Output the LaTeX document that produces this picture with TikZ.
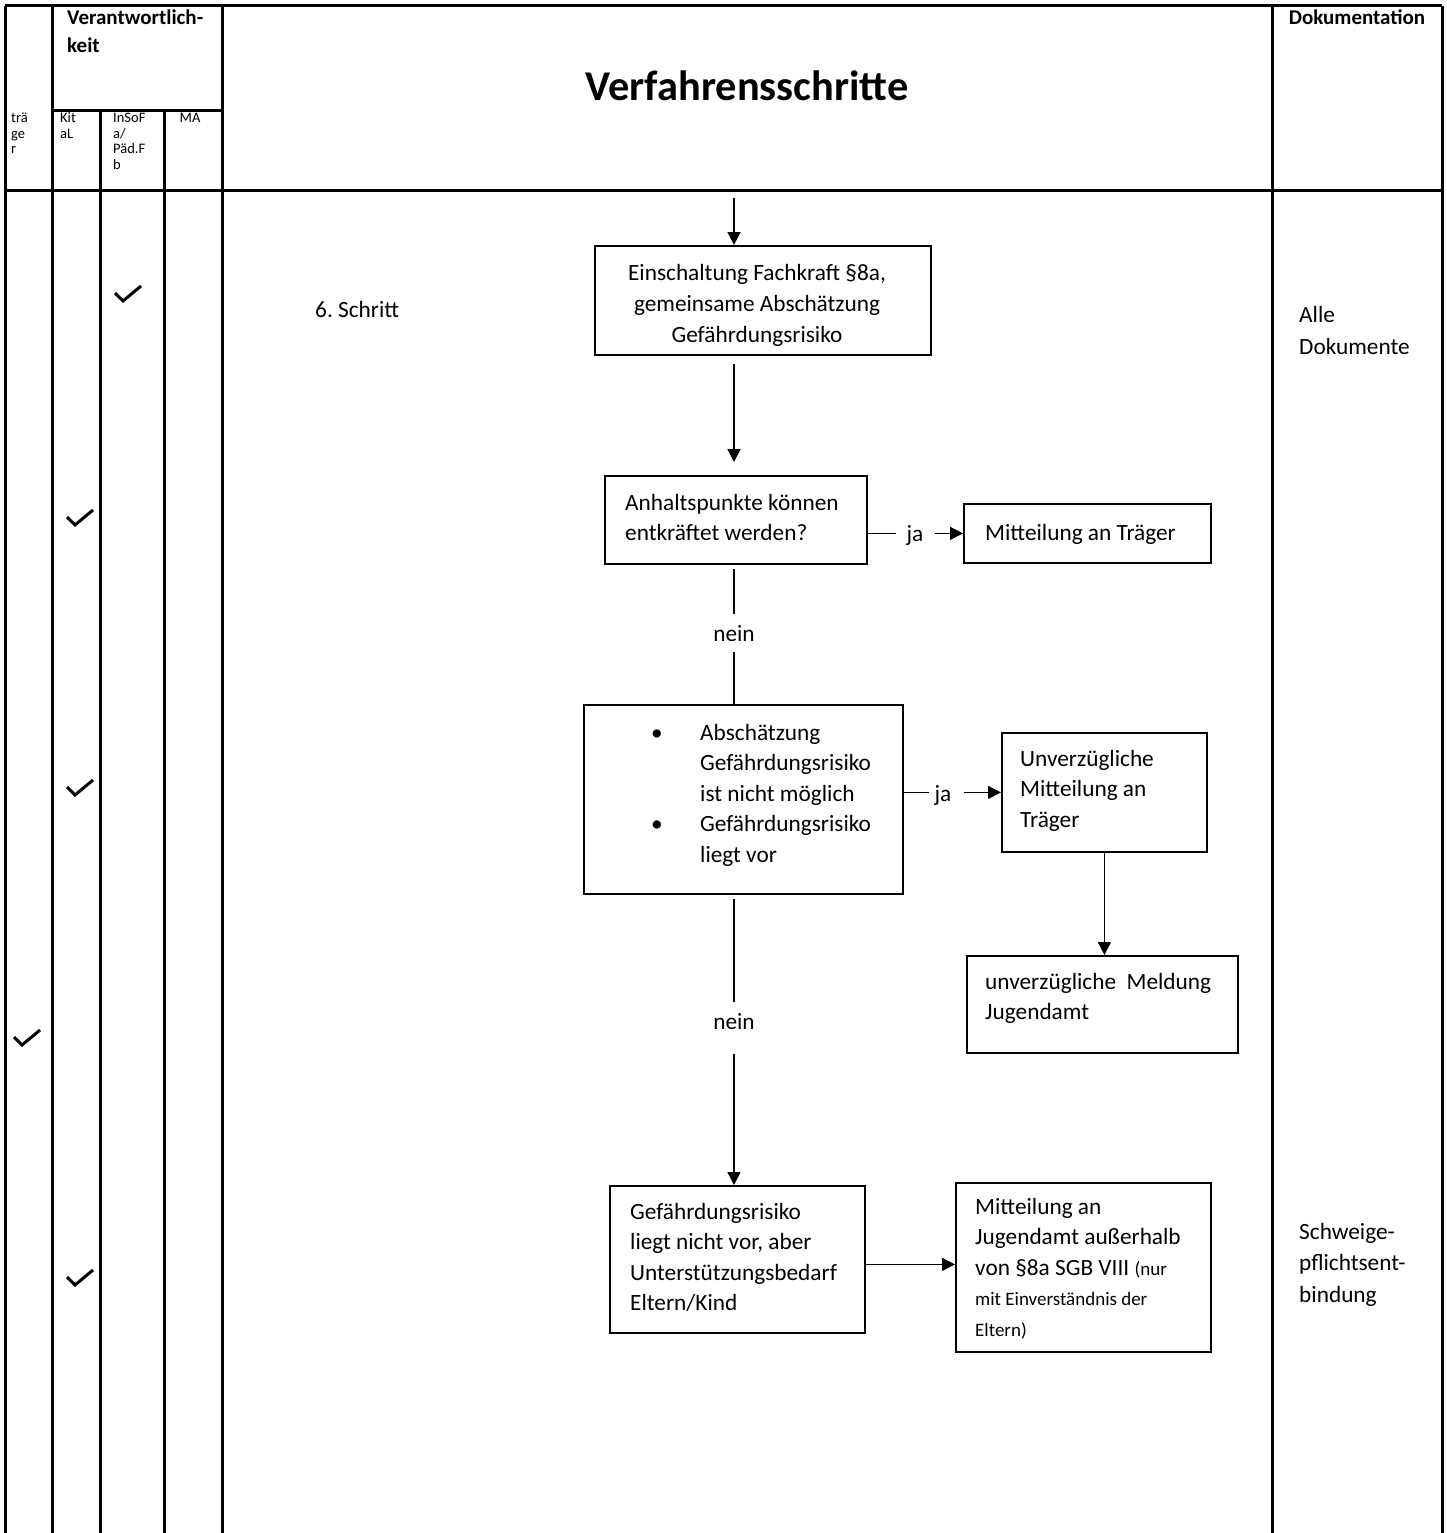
\documentclass[tikz,border=0pt]{standalone}
\usepackage{fontspec}
\setmainfont{Carlito}
\usetikzlibrary{arrows.meta,calc}
\newcommand{\bodyfont}{\fontsize{23.3}{30.5}\selectfont}
\newcommand{\smallerfont}{\fontsize{19}{30.5}\selectfont}
\frenchspacing
\begin{document}
\begin{tikzpicture}[x=1pt,y=-1pt,
  grid/.style={line width=3pt},
  box/.style={draw, line width=1.8pt, inner sep=0pt, anchor=north west},
  txt/.style={inner sep=0pt, font=\bodyfont, align=flush left, anchor=base west, text width=300pt},
  ctxt/.style={inner sep=0pt, font=\bodyfont, align=flush center, anchor=base, text width=330pt},
  conn/.style={line width=1.4pt},
  arr/.style={conn, -{Triangle[length=13pt,width=13pt]}},
  lbl/.style={inner sep=0pt, font=\bodyfont, anchor=base},
  chk/.style={line width=3pt},
  hd/.style={inner sep=0pt, font=\fontsize{21}{28}\selectfont\bfseries, align=flush left, anchor=base west, text width=160pt},
  sm/.style={inner sep=0pt, font=\fontsize{14.5}{15.5}\selectfont, align=flush left, anchor=base west, text width=50pt},
]
\useasboundingbox (0,0) rectangle (1446,1533);
\fill[white] (0,0) rectangle (1446,1533);

% ---------- table grid ----------
\draw[grid] (5,6) -- (1442,6);
\draw[grid] (5,191) -- (1442,191);
\draw[grid] (52,111) -- (222,111);
\draw[grid] (5,6) -- (5,1533);
\draw[grid] (52,6) -- (52,1533);
\draw[grid] (100,111) -- (100,1533);
\draw[grid] (164,111) -- (164,1533);
\draw[grid] (222,6) -- (222,1533);
\draw[grid] (1272,6) -- (1272,1533);
\draw[grid] (1442,6) -- (1442,1533);

% ---------- header texts ----------
\node[hd] (hvera) at (67,25) {Verantwortlich-\\keit};
\node[hd, align=flush center, anchor=base] (hdoku) at (1357,25) {Dokumentation};
\node[inner sep=0pt, font=\fontsize{42.4}{50}\selectfont\bfseries, anchor=base] (title) at (747,101) {Verfahrensschritte};
\node[sm] (htraeger) at (11,123) {trä\\ge\\r};
\node[sm] (hkita) at (60,123) {Kit\\aL};
\node[sm] (hinsofa) at (113,123) {InSoF\\a/\\Päd.F\\b};
\node[sm, align=flush center, anchor=base, text width=40pt] (hma) at (190,123) {MA};

% ---------- side texts ----------
\node[txt] (schritt) at (315,317) {6. Schritt};
\node[txt, font=\fontsize{23.3}{32}\selectfont, text width=140pt] (dok1) at (1299,322) {Alle\\Dokumente};
\node[txt, font=\fontsize{23.3}{31.5}\selectfont, text width=140pt] (dok2) at (1299,1239) {Schweige-\\pflichtsent-\\bindung};

% ---------- boxes ----------
\node[box, minimum width=336pt, minimum height=109pt] (b1) at (594,245) {};
\node[box, minimum width=262pt, minimum height=88pt]  (b2) at (604,475) {};
\node[box, minimum width=247pt, minimum height=59pt]  (b3) at (963,503) {};
\node[box, minimum width=319pt, minimum height=189pt] (b4) at (583,704) {};
\node[box, minimum width=205pt, minimum height=119pt] (b5) at (1001,732) {};
\node[box, minimum width=271pt, minimum height=97pt]  (b6) at (966,955) {};
\node[box, minimum width=255pt, minimum height=147pt] (b7) at (609,1185) {};
\node[box, minimum width=255pt, minimum height=169pt] (b8) at (955,1182) {};

% ---------- box texts ----------
\node[ctxt, font=\fontsize{23.3}{31}\selectfont] (t1) at (757,280) {Einschaltung Fachkraft §8a,\\gemeinsame Abschätzung\\Gefährdungsrisiko};
\node[txt] (t2) at (625,510) {Anhaltspunkte können\\entkräftet werden?};
\node[txt] (t3) at (985,540) {Mitteilung an Träger};
\node[txt] (t4) at (651,740) {\makebox[49pt][l]{•}Abschätzung\\\makebox[49pt][l]{}Gefährdungsrisiko\\\makebox[49pt][l]{}ist nicht möglich\\\makebox[49pt][l]{•}Gefährdungsrisiko\\\makebox[49pt][l]{}liegt vor};
\node[txt] (t5) at (1020,766) {Unverzügliche\\Mitteilung an\\Träger};
\node[txt] (t6) at (985,989) {unverzügliche~~Meldung\\Jugendamt};
\node[txt] (t7) at (630,1219) {Gefährdungsrisiko\\liegt nicht vor, aber\\Unterstützungsbedarf\\Eltern/Kind};
\node[txt] (t8) at (975,1214) {Mitteilung an\\Jugendamt außerhalb\\von §8a SGB VIII {\smallerfont (nur}\\{\smallerfont mit Einverständnis der}\\{\smallerfont Eltern)}};

% ---------- connector labels ----------
\coordinate (col) at (734,0);
\coordinate (top) at (734,198);
\node[lbl, inner ysep=11pt] (n1) at (734,641) {nein};
\node[lbl, inner ysep=11pt] (n2) at (734,1029) {nein};
\node[lbl] (j1) at (915,541) {ja};
\node[lbl] (j2) at (943,801) {ja};

% ---------- connectors ----------
\draw[arr] (top) -- (b1.north -| col);
\draw[arr, shorten <=8pt, shorten >=13pt] (b1.south -| col) -- (b2.north -| col);
\draw[conn, shorten <=4pt] (b2.south -| col) -- (n1);
\draw[conn] (n1) -- (b4.north -| col);
\draw[conn, shorten >=10pt] (b2.east |- b3.west) -- (j1.west |- b3.west);
\draw[arr, shorten <=11pt] (j1.east |- b3.west) -- (b3.west);
\draw[conn, shorten >=5pt] (b4.east |- b5.west) -- (j2.west |- b5.west);
\draw[arr, shorten <=12pt] (j2.east |- b5.west) -- (b5.west);
\draw[arr] (b5.south) -- (b5.south |- b6.north);
\draw[conn, shorten <=4pt] (b4.south -| col) -- (n2);
\draw[arr, shorten <=14pt] (n2) -- (b7.north -| col);
\coordinate (a7) at ([yshift=-5pt]b7.east);
\draw[arr] (a7) -- (a7 -| b8.west);

% ---------- check marks ----------
\coordinate (ck1) at (128,296);
\coordinate (ck2) at (80,520);
\coordinate (ck3) at (80,790);
\coordinate (ck4) at (27,1040);
\coordinate (ck5) at (80,1280);
\foreach \c in {ck1,ck2,ck3,ck4,ck5}
  \draw[chk] (\c) ++(-13,-3) -- ++(8,8) -- ++(18,-15);
\end{tikzpicture}
\end{document}
